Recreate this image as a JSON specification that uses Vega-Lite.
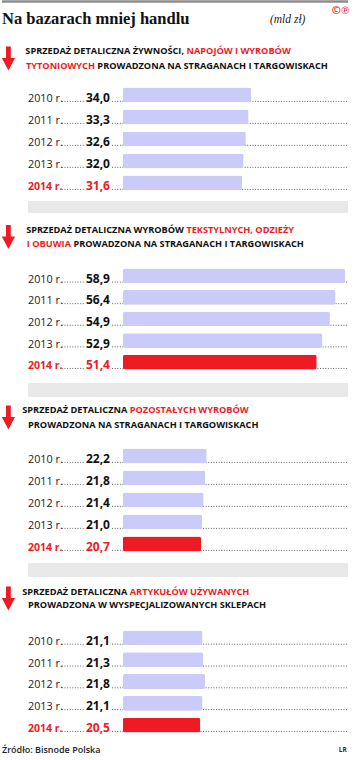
{
  "$schema": "https://vega.github.io/schema/vega-lite/v6.json",
  "padding": 0,
  "spacing": 0,
  "bounds": "flush",
  "background": "white",
  "config": {
    "view": {"stroke": null},
    "axis": {"disable": true},
    "locale": {"number": {"decimal": ",", "thousands": "\u00a0", "grouping": [3], "currency": ["", " zł"]}},
    "text": {"font": "Open Sans"}
  },
  "resolve": {"scale": {"x": "independent", "y": "independent"}},
  "datasets": {
    "bars": [
      {"section": 1, "period": "2010 r.", "value": 34.0, "latest": false, "redBar": false},
      {"section": 1, "period": "2011 r.", "value": 33.3, "latest": false, "redBar": false},
      {"section": 1, "period": "2012 r.", "value": 32.6, "latest": false, "redBar": false},
      {"section": 1, "period": "2013 r.", "value": 32.0, "latest": false, "redBar": false},
      {"section": 1, "period": "2014 r.", "value": 31.6, "latest": true, "redBar": false},
      {"section": 2, "period": "2010 r.", "value": 58.9, "latest": false, "redBar": false},
      {"section": 2, "period": "2011 r.", "value": 56.4, "latest": false, "redBar": false},
      {"section": 2, "period": "2012 r.", "value": 54.9, "latest": false, "redBar": false},
      {"section": 2, "period": "2013 r.", "value": 52.9, "latest": false, "redBar": false},
      {"section": 2, "period": "2014 r.", "value": 51.4, "latest": true, "redBar": true},
      {"section": 3, "period": "2010 r.", "value": 22.2, "latest": false, "redBar": false},
      {"section": 3, "period": "2011 r.", "value": 21.8, "latest": false, "redBar": false},
      {"section": 3, "period": "2012 r.", "value": 21.4, "latest": false, "redBar": false},
      {"section": 3, "period": "2013 r.", "value": 21.0, "latest": false, "redBar": false},
      {"section": 3, "period": "2014 r.", "value": 20.7, "latest": true, "redBar": true},
      {"section": 4, "period": "2010 r.", "value": 21.1, "latest": false, "redBar": false},
      {"section": 4, "period": "2011 r.", "value": 21.3, "latest": false, "redBar": false},
      {"section": 4, "period": "2012 r.", "value": 21.8, "latest": false, "redBar": false},
      {"section": 4, "period": "2013 r.", "value": 21.1, "latest": false, "redBar": false},
      {"section": 4, "period": "2014 r.", "value": 20.5, "latest": true, "redBar": true}
    ],
    "heads": [
      {"section": 1, "line": "1", "prefix": "SPRZEDAŻ DETALICZNA ŻYWNOŚCI,", "rest": "NAPOJÓW I WYROBÓW", "red": "tail"},
      {"section": 1, "line": "2", "prefix": "TYTONIOWYCH", "rest": "PROWADZONA NA STRAGANACH I TARGOWISKACH", "red": "head"},
      {"section": 2, "line": "1", "prefix": "SPRZEDAŻ DETALICZNA WYROBÓW", "rest": "TEKSTYLNYCH, ODZIEŻY", "red": "tail"},
      {"section": 2, "line": "2", "prefix": "I OBUWIA", "rest": "PROWADZONA NA STRAGANACH I TARGOWISKACH", "red": "head"},
      {"section": 3, "line": "1", "prefix": "SPRZEDAŻ DETALICZNA", "rest": "POZOSTAŁYCH WYROBÓW", "red": "tail"},
      {"section": 3, "line": "2", "prefix": "", "rest": "PROWADZONA NA STRAGANACH I TARGOWISKACH", "red": "none"},
      {"section": 4, "line": "1", "prefix": "SPRZEDAŻ DETALICZNA", "rest": "ARTYKUŁÓW UŻYWANYCH", "red": "tail"},
      {"section": 4, "line": "2", "prefix": "", "rest": "PROWADZONA W WYSPECJALIZOWANYCH SKLEPACH", "red": "none"}
    ]
  },
  "vconcat": [
    {
      "width": 346, "height": 38,
      "data": {"values": [{"title": "Na bazarach mniej handlu", "unit": "(mld zł)", "logo": "©℗"}]},
      "layer": [
        {"mark": {"type": "rule", "color": "#8c8c8c", "strokeWidth": 2.5},
         "encoding": {"x": {"datum": -32.1, "type": "quantitative", "scale": {"domain": [-32.1, 59.7], "nice": false}}, "x2": {"datum": 59.7},
                      "y": {"datum": 0.96, "type": "quantitative", "scale": {"domain": [0, 1], "nice": false}}}},
        {"mark": {"type": "text", "align": "left", "baseline": "alphabetic", "font": "Liberation Serif", "fontWeight": "bold", "fontSize": 16.5, "color": "#111"},
         "encoding": {"x": {"datum": -32.1, "type": "quantitative"}, "y": {"datum": 0.37, "type": "quantitative"}, "text": {"field": "title"}}},
        {"mark": {"type": "text", "align": "left", "baseline": "alphabetic", "font": "Liberation Serif", "fontStyle": "italic", "fontSize": 11.5, "color": "#222"},
         "encoding": {"x": {"datum": 39.0, "type": "quantitative"}, "y": {"datum": 0.4, "type": "quantitative"}, "text": {"field": "unit"}}},
        {"mark": {"type": "text", "align": "center", "baseline": "middle", "fontWeight": "bold", "fontSize": 11, "color": "#ee1b24"},
         "encoding": {"x": {"datum": 57.7, "type": "quantitative"}, "y": {"datum": 0.71, "type": "quantitative"}, "text": {"field": "logo"}}}
      ]
    },
    {
      "width": 346, "height": 46,
      "data": {"name": "heads"},
      "transform": [{"filter": "datum.section == 1"}],
      "encoding": {"y": {"field": "line", "type": "nominal", "scale": {"type": "band", "domain": ["1", "2"], "paddingInner": 0, "paddingOuter": 0.533, "align": 0.344}}},
      "layer": [
        {"transform": [{"filter": "datum.line == '1'"}],
         "mark": {"type": "point", "shape": "M-0.2,-1L0.2,-1L0.2,-0.05L0.55,-0.05L0,1L-0.55,-0.05L-0.2,-0.05Z", "filled": true, "color": "#ee1b24", "size": 576, "opacity": 1, "strokeWidth": 0},
         "encoding": {"x": {"datum": -30.4, "type": "quantitative", "scale": {"domain": [-32.1, 59.7], "nice": false}},
                      "y": {"field": "line", "type": "nominal", "bandPosition": 1}}},
        {"transform": [{"filter": "datum.line == '1'"}],
         "mark": {"type": "text", "align": "right", "baseline": "middle", "fontSize": 9.2, "fontWeight": "bold"},
         "encoding": {"x": {"datum": 16.2, "type": "quantitative"}, "text": {"field": "prefix"},
                      "color": {"condition": {"test": "datum.red == 'head'", "value": "#ee1b24"}, "value": "#111"}}},
        {"transform": [{"filter": "datum.line == '1'"}],
         "mark": {"type": "text", "align": "left", "baseline": "middle", "fontSize": 9.2, "fontWeight": "bold"},
         "encoding": {"x": {"datum": 16.85, "type": "quantitative"}, "text": {"field": "rest"},
                      "color": {"condition": {"test": "datum.red == 'tail'", "value": "#ee1b24"}, "value": "#111"}}},
        {"transform": [{"filter": "datum.line == '2'"}],
         "mark": {"type": "text", "align": "right", "baseline": "middle", "fontSize": 9.2, "fontWeight": "bold"},
         "encoding": {"x": {"datum": -7.43, "type": "quantitative"}, "text": {"field": "prefix"},
                      "color": {"condition": {"test": "datum.red == 'head'", "value": "#ee1b24"}, "value": "#111"}}},
        {"transform": [{"filter": "datum.line == '2'"}],
         "mark": {"type": "text", "align": "left", "baseline": "middle", "fontSize": 9.2, "fontWeight": "bold"},
         "encoding": {"x": {"datum": -6.8, "type": "quantitative"}, "text": {"field": "rest"},
                      "color": {"condition": {"test": "datum.red == 'tail'", "value": "#ee1b24"}, "value": "#111"}}}
      ]
    },
    {
      "width": 346, "height": 110,
      "data": {"name": "bars"},
      "transform": [{"filter": "datum.section == 1"}],
      "encoding": {"y": {"field": "period", "type": "nominal", "scale": {"type": "band", "domain": ["2010 r.", "2011 r.", "2012 r.", "2013 r.", "2014 r."], "paddingInner": 0, "paddingOuter": 0}}},
      "layer": [
        {"mark": {"type": "rule", "strokeDash": [1, 1.6], "strokeWidth": 0.9, "color": "#555"},
         "encoding": {"x": {"datum": -16.2, "type": "quantitative", "scale": {"domain": [-32.1, 59.7], "nice": false}}, "x2": {"datum": -10.1},
                      "y": {"field": "period", "type": "nominal", "bandPosition": 0.79}}},
        {"mark": {"type": "rule", "strokeDash": [1, 1.6], "strokeWidth": 0.9, "color": "#555"},
         "encoding": {"x": {"datum": -2.9, "type": "quantitative"}, "x2": {"datum": 59.7}, "y": {"field": "period", "type": "nominal", "bandPosition": 0.79}}},
        {"mark": {"type": "bar", "height": {"band": 0.68}, "cornerRadius": 2},
         "encoding": {"x": {"field": "value", "type": "quantitative"},
                      "color": {"condition": {"test": "datum.redBar", "value": "#ee1b24"}, "value": "#cbcbfa"}}},
        {"transform": [{"filter": "!datum.latest"}],
         "mark": {"type": "text", "align": "left", "baseline": "alphabetic", "fontSize": 10.8, "color": "#222"},
         "encoding": {"x": {"datum": -25.2, "type": "quantitative"}, "y": {"field": "period", "type": "nominal", "bandPosition": 0.82}, "text": {"field": "period"}}},
        {"transform": [{"filter": "datum.latest"}],
         "mark": {"type": "text", "align": "left", "baseline": "alphabetic", "fontSize": 10.5, "fontWeight": "bold", "color": "#ee1b24"},
         "encoding": {"x": {"datum": -25.2, "type": "quantitative"}, "y": {"field": "period", "type": "nominal", "bandPosition": 0.82}, "text": {"field": "period"}}},
        {"mark": {"type": "text", "align": "right", "baseline": "alphabetic", "fontSize": 12, "fontWeight": "bold"},
         "encoding": {"x": {"datum": -3.45, "type": "quantitative"}, "y": {"field": "period", "type": "nominal", "bandPosition": 0.82},
                      "text": {"field": "value", "type": "quantitative", "format": ".1f"},
                      "color": {"condition": {"test": "datum.latest", "value": "#ee1b24"}, "value": "#111"}}}
      ]
    },
    {
      "width": 346, "height": 22,
      "data": {"values": [{}]},
      "mark": {"type": "rect", "color": "#e9e9e9"},
      "encoding": {"x": {"datum": -25.2, "type": "quantitative", "scale": {"domain": [-32.1, 59.7], "nice": false}}, "x2": {"datum": 59.7},
                   "y": {"datum": 0.682, "type": "quantitative", "scale": {"domain": [0, 1], "nice": false}}, "y2": {"datum": 0.136}}
    },
    {
      "width": 346, "height": 49,
      "data": {"name": "heads"},
      "transform": [{"filter": "datum.section == 2"}],
      "encoding": {"y": {"field": "line", "type": "nominal", "scale": {"type": "band", "domain": ["1", "2"], "paddingInner": 0, "paddingOuter": 0.75, "align": 0.333}}},
      "layer": [
        {"transform": [{"filter": "datum.line == '1'"}],
         "mark": {"type": "point", "shape": "M-0.2,-1L0.2,-1L0.2,-0.05L0.55,-0.05L0,1L-0.55,-0.05L-0.2,-0.05Z", "filled": true, "color": "#ee1b24", "size": 576, "opacity": 1, "strokeWidth": 0},
         "encoding": {"x": {"datum": -30.4, "type": "quantitative", "scale": {"domain": [-32.1, 59.7], "nice": false}},
                      "y": {"field": "line", "type": "nominal", "bandPosition": 1}}},
        {"transform": [{"filter": "datum.line == '1'"}],
         "mark": {"type": "text", "align": "right", "baseline": "middle", "fontSize": 9.2, "fontWeight": "bold"},
         "encoding": {"x": {"datum": 16.18, "type": "quantitative"}, "text": {"field": "prefix"},
                      "color": {"condition": {"test": "datum.red == 'head'", "value": "#ee1b24"}, "value": "#111"}}},
        {"transform": [{"filter": "datum.line == '1'"}],
         "mark": {"type": "text", "align": "left", "baseline": "middle", "fontSize": 9.2, "fontWeight": "bold"},
         "encoding": {"x": {"datum": 16.82, "type": "quantitative"}, "text": {"field": "rest"},
                      "color": {"condition": {"test": "datum.red == 'tail'", "value": "#ee1b24"}, "value": "#111"}}},
        {"transform": [{"filter": "datum.line == '2'"}],
         "mark": {"type": "text", "align": "right", "baseline": "middle", "fontSize": 9.2, "fontWeight": "bold"},
         "encoding": {"x": {"datum": -13.8, "type": "quantitative"}, "text": {"field": "prefix"},
                      "color": {"condition": {"test": "datum.red == 'head'", "value": "#ee1b24"}, "value": "#111"}}},
        {"transform": [{"filter": "datum.line == '2'"}],
         "mark": {"type": "text", "align": "left", "baseline": "middle", "fontSize": 9.2, "fontWeight": "bold"},
         "encoding": {"x": {"datum": -13.16, "type": "quantitative"}, "text": {"field": "rest"},
                      "color": {"condition": {"test": "datum.red == 'tail'", "value": "#ee1b24"}, "value": "#111"}}}
      ]
    },
    {
      "width": 346, "height": 108,
      "data": {"name": "bars"},
      "transform": [{"filter": "datum.section == 2"}],
      "encoding": {"y": {"field": "period", "type": "nominal", "scale": {"type": "band", "domain": ["2010 r.", "2011 r.", "2012 r.", "2013 r.", "2014 r."], "paddingInner": 0, "paddingOuter": 0}}},
      "layer": [
        {"mark": {"type": "rule", "strokeDash": [1, 1.6], "strokeWidth": 0.9, "color": "#555"},
         "encoding": {"x": {"datum": -16.2, "type": "quantitative", "scale": {"domain": [-32.1, 59.7], "nice": false}}, "x2": {"datum": -10.1},
                      "y": {"field": "period", "type": "nominal", "bandPosition": 0.79}}},
        {"mark": {"type": "rule", "strokeDash": [1, 1.6], "strokeWidth": 0.9, "color": "#555"},
         "encoding": {"x": {"datum": -2.9, "type": "quantitative"}, "x2": {"datum": 59.7}, "y": {"field": "period", "type": "nominal", "bandPosition": 0.79}}},
        {"mark": {"type": "bar", "height": {"band": 0.68}, "cornerRadius": 2},
         "encoding": {"x": {"field": "value", "type": "quantitative"},
                      "color": {"condition": {"test": "datum.redBar", "value": "#ee1b24"}, "value": "#cbcbfa"}}},
        {"transform": [{"filter": "!datum.latest"}],
         "mark": {"type": "text", "align": "left", "baseline": "alphabetic", "fontSize": 10.8, "color": "#222"},
         "encoding": {"x": {"datum": -25.2, "type": "quantitative"}, "y": {"field": "period", "type": "nominal", "bandPosition": 0.82}, "text": {"field": "period"}}},
        {"transform": [{"filter": "datum.latest"}],
         "mark": {"type": "text", "align": "left", "baseline": "alphabetic", "fontSize": 10.5, "fontWeight": "bold", "color": "#ee1b24"},
         "encoding": {"x": {"datum": -25.2, "type": "quantitative"}, "y": {"field": "period", "type": "nominal", "bandPosition": 0.82}, "text": {"field": "period"}}},
        {"mark": {"type": "text", "align": "right", "baseline": "alphabetic", "fontSize": 12, "fontWeight": "bold"},
         "encoding": {"x": {"datum": -3.45, "type": "quantitative"}, "y": {"field": "period", "type": "nominal", "bandPosition": 0.82},
                      "text": {"field": "value", "type": "quantitative", "format": ".1f"},
                      "color": {"condition": {"test": "datum.latest", "value": "#ee1b24"}, "value": "#111"}}}
      ]
    },
    {
      "width": 346, "height": 27,
      "data": {"values": [{}]},
      "mark": {"type": "rect", "color": "#e9e9e9"},
      "encoding": {"x": {"datum": -25.2, "type": "quantitative", "scale": {"domain": [-32.1, 59.7], "nice": false}}, "x2": {"datum": 59.7},
                   "y": {"datum": 0.63, "type": "quantitative", "scale": {"domain": [0, 1], "nice": false}}, "y2": {"datum": 0.111}}
    },
    {
      "width": 346, "height": 45,
      "data": {"name": "heads"},
      "transform": [{"filter": "datum.section == 3"}],
      "encoding": {"y": {"field": "line", "type": "nominal", "scale": {"type": "band", "domain": ["1", "2"], "paddingInner": 0, "paddingOuter": 0.5, "align": 0.167}}},
      "layer": [
        {"transform": [{"filter": "datum.line == '1'"}],
         "mark": {"type": "point", "shape": "M-0.2,-1L0.2,-1L0.2,-0.05L0.55,-0.05L0,1L-0.55,-0.05L-0.2,-0.05Z", "filled": true, "color": "#ee1b24", "size": 576, "opacity": 1, "strokeWidth": 0},
         "encoding": {"x": {"datum": -30.4, "type": "quantitative", "scale": {"domain": [-32.1, 59.7], "nice": false}},
                      "y": {"field": "line", "type": "nominal", "bandPosition": 1}}},
        {"transform": [{"filter": "datum.line == '1'"}],
         "mark": {"type": "text", "align": "right", "baseline": "middle", "fontSize": 9.2, "fontWeight": "bold"},
         "encoding": {"x": {"datum": 1.15, "type": "quantitative"}, "text": {"field": "prefix"},
                      "color": {"condition": {"test": "datum.red == 'head'", "value": "#ee1b24"}, "value": "#111"}}},
        {"transform": [{"filter": "datum.line == '1'"}],
         "mark": {"type": "text", "align": "left", "baseline": "middle", "fontSize": 9.2, "fontWeight": "bold"},
         "encoding": {"x": {"datum": 1.79, "type": "quantitative"}, "text": {"field": "rest"},
                      "color": {"condition": {"test": "datum.red == 'tail'", "value": "#ee1b24"}, "value": "#111"}}},
        {"transform": [{"filter": "datum.line == '2'"}],
         "mark": {"type": "text", "align": "left", "baseline": "middle", "fontSize": 9.2, "fontWeight": "bold", "color": "#111"},
         "encoding": {"x": {"datum": -25.2, "type": "quantitative"}, "text": {"field": "rest"}}}
      ]
    },
    {
      "width": 346, "height": 110,
      "data": {"name": "bars"},
      "transform": [{"filter": "datum.section == 3"}],
      "encoding": {"y": {"field": "period", "type": "nominal", "scale": {"type": "band", "domain": ["2010 r.", "2011 r.", "2012 r.", "2013 r.", "2014 r."], "paddingInner": 0, "paddingOuter": 0}}},
      "layer": [
        {"mark": {"type": "rule", "strokeDash": [1, 1.6], "strokeWidth": 0.9, "color": "#555"},
         "encoding": {"x": {"datum": -16.2, "type": "quantitative", "scale": {"domain": [-32.1, 59.7], "nice": false}}, "x2": {"datum": -10.1},
                      "y": {"field": "period", "type": "nominal", "bandPosition": 0.79}}},
        {"mark": {"type": "rule", "strokeDash": [1, 1.6], "strokeWidth": 0.9, "color": "#555"},
         "encoding": {"x": {"datum": -2.9, "type": "quantitative"}, "x2": {"datum": 59.7}, "y": {"field": "period", "type": "nominal", "bandPosition": 0.79}}},
        {"mark": {"type": "bar", "height": {"band": 0.68}, "cornerRadius": 2},
         "encoding": {"x": {"field": "value", "type": "quantitative"},
                      "color": {"condition": {"test": "datum.redBar", "value": "#ee1b24"}, "value": "#cbcbfa"}}},
        {"transform": [{"filter": "!datum.latest"}],
         "mark": {"type": "text", "align": "left", "baseline": "alphabetic", "fontSize": 10.8, "color": "#222"},
         "encoding": {"x": {"datum": -25.2, "type": "quantitative"}, "y": {"field": "period", "type": "nominal", "bandPosition": 0.82}, "text": {"field": "period"}}},
        {"transform": [{"filter": "datum.latest"}],
         "mark": {"type": "text", "align": "left", "baseline": "alphabetic", "fontSize": 10.5, "fontWeight": "bold", "color": "#ee1b24"},
         "encoding": {"x": {"datum": -25.2, "type": "quantitative"}, "y": {"field": "period", "type": "nominal", "bandPosition": 0.82}, "text": {"field": "period"}}},
        {"mark": {"type": "text", "align": "right", "baseline": "alphabetic", "fontSize": 12, "fontWeight": "bold"},
         "encoding": {"x": {"datum": -3.45, "type": "quantitative"}, "y": {"field": "period", "type": "nominal", "bandPosition": 0.82},
                      "text": {"field": "value", "type": "quantitative", "format": ".1f"},
                      "color": {"condition": {"test": "datum.latest", "value": "#ee1b24"}, "value": "#111"}}}
      ]
    },
    {
      "width": 346, "height": 25,
      "data": {"values": [{}]},
      "mark": {"type": "rect", "color": "#e9e9e9"},
      "encoding": {"x": {"datum": -25.2, "type": "quantitative", "scale": {"domain": [-32.1, 59.7], "nice": false}}, "x2": {"datum": 59.7},
                   "y": {"datum": 0.68, "type": "quantitative", "scale": {"domain": [0, 1], "nice": false}}, "y2": {"datum": 0.12}}
    },
    {
      "width": 346, "height": 47,
      "data": {"name": "heads"},
      "transform": [{"filter": "datum.section == 4"}],
      "encoding": {"y": {"field": "line", "type": "nominal", "scale": {"type": "band", "domain": ["1", "2"], "paddingInner": 0, "paddingOuter": 0.808, "align": 0.262}}},
      "layer": [
        {"transform": [{"filter": "datum.line == '1'"}],
         "mark": {"type": "point", "shape": "M-0.2,-1L0.2,-1L0.2,-0.05L0.55,-0.05L0,1L-0.55,-0.05L-0.2,-0.05Z", "filled": true, "color": "#ee1b24", "size": 576, "opacity": 1, "strokeWidth": 0},
         "encoding": {"x": {"datum": -30.4, "type": "quantitative", "scale": {"domain": [-32.1, 59.7], "nice": false}},
                      "y": {"field": "line", "type": "nominal", "bandPosition": 1}}},
        {"transform": [{"filter": "datum.line == '1'"}],
         "mark": {"type": "text", "align": "right", "baseline": "middle", "fontSize": 9.2, "fontWeight": "bold"},
         "encoding": {"x": {"datum": 1.15, "type": "quantitative"}, "text": {"field": "prefix"},
                      "color": {"condition": {"test": "datum.red == 'head'", "value": "#ee1b24"}, "value": "#111"}}},
        {"transform": [{"filter": "datum.line == '1'"}],
         "mark": {"type": "text", "align": "left", "baseline": "middle", "fontSize": 9.2, "fontWeight": "bold"},
         "encoding": {"x": {"datum": 1.79, "type": "quantitative"}, "text": {"field": "rest"},
                      "color": {"condition": {"test": "datum.red == 'tail'", "value": "#ee1b24"}, "value": "#111"}}},
        {"transform": [{"filter": "datum.line == '2'"}],
         "mark": {"type": "text", "align": "left", "baseline": "middle", "fontSize": 9.2, "fontWeight": "bold", "color": "#111"},
         "encoding": {"x": {"datum": -25.2, "type": "quantitative"}, "text": {"field": "rest"}}}
      ]
    },
    {
      "width": 346, "height": 109,
      "data": {"name": "bars"},
      "transform": [{"filter": "datum.section == 4"}],
      "encoding": {"y": {"field": "period", "type": "nominal", "scale": {"type": "band", "domain": ["2010 r.", "2011 r.", "2012 r.", "2013 r.", "2014 r."], "paddingInner": 0, "paddingOuter": 0}}},
      "layer": [
        {"mark": {"type": "rule", "strokeDash": [1, 1.6], "strokeWidth": 0.9, "color": "#555"},
         "encoding": {"x": {"datum": -16.2, "type": "quantitative", "scale": {"domain": [-32.1, 59.7], "nice": false}}, "x2": {"datum": -10.1},
                      "y": {"field": "period", "type": "nominal", "bandPosition": 0.79}}},
        {"mark": {"type": "rule", "strokeDash": [1, 1.6], "strokeWidth": 0.9, "color": "#555"},
         "encoding": {"x": {"datum": -2.9, "type": "quantitative"}, "x2": {"datum": 59.7}, "y": {"field": "period", "type": "nominal", "bandPosition": 0.79}}},
        {"mark": {"type": "bar", "height": {"band": 0.68}, "cornerRadius": 2},
         "encoding": {"x": {"field": "value", "type": "quantitative"},
                      "color": {"condition": {"test": "datum.redBar", "value": "#ee1b24"}, "value": "#cbcbfa"}}},
        {"transform": [{"filter": "!datum.latest"}],
         "mark": {"type": "text", "align": "left", "baseline": "alphabetic", "fontSize": 10.8, "color": "#222"},
         "encoding": {"x": {"datum": -25.2, "type": "quantitative"}, "y": {"field": "period", "type": "nominal", "bandPosition": 0.82}, "text": {"field": "period"}}},
        {"transform": [{"filter": "datum.latest"}],
         "mark": {"type": "text", "align": "left", "baseline": "alphabetic", "fontSize": 10.5, "fontWeight": "bold", "color": "#ee1b24"},
         "encoding": {"x": {"datum": -25.2, "type": "quantitative"}, "y": {"field": "period", "type": "nominal", "bandPosition": 0.82}, "text": {"field": "period"}}},
        {"mark": {"type": "text", "align": "right", "baseline": "alphabetic", "fontSize": 12, "fontWeight": "bold"},
         "encoding": {"x": {"datum": -3.45, "type": "quantitative"}, "y": {"field": "period", "type": "nominal", "bandPosition": 0.82},
                      "text": {"field": "value", "type": "quantitative", "format": ".1f"},
                      "color": {"condition": {"test": "datum.latest", "value": "#ee1b24"}, "value": "#111"}}}
      ]
    },
    {
      "width": 346, "height": 24,
      "data": {"values": [{"source": "Źródło: Bisnode Polska", "author": "LR"}]},
      "layer": [
        {"mark": {"type": "text", "align": "left", "baseline": "middle", "fontSize": 9, "fontWeight": 600, "color": "#222"},
         "encoding": {"x": {"datum": -32.1, "type": "quantitative", "scale": {"domain": [-32.1, 59.7], "nice": false}},
                      "y": {"datum": 0.42, "type": "quantitative", "scale": {"domain": [0, 1], "nice": false}}, "text": {"field": "source"}}},
        {"mark": {"type": "text", "align": "center", "baseline": "middle", "fontSize": 6.5, "fontWeight": "bold", "color": "#333"},
         "encoding": {"x": {"datum": 58.3, "type": "quantitative"}, "y": {"datum": 0.42, "type": "quantitative"}, "text": {"field": "author"}}}
      ]
    }
  ]
}
